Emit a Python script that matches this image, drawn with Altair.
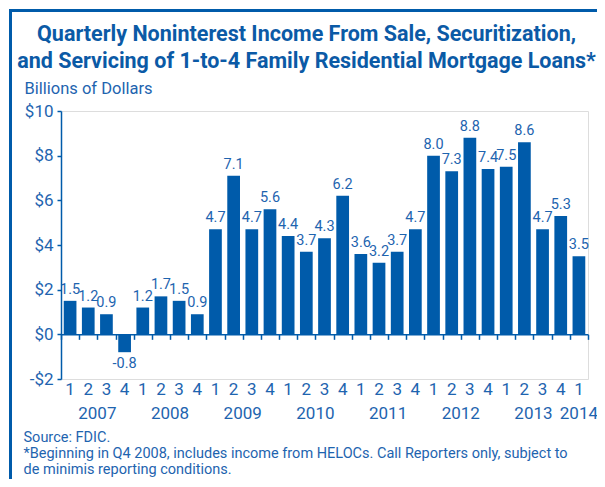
import altair as alt
import pandas as pd

# ---- data ----
year_labels = ["2007", "2008", "2009", "2010", "2011", "2012", "2013", "2014"]
quarters_per_year = [4, 4, 4, 4, 4, 4, 4, 1]
values = [1.5, 1.2, 0.9, -0.8,
          1.2, 1.7, 1.5, 0.9,
          4.7, 7.1, 4.7, 5.6,
          4.4, 3.7, 4.3, 6.2,
          3.6, 3.2, 3.7, 4.7,
          8.0, 7.3, 8.8, 7.4,
          7.5, 8.6, 4.7, 5.3,
          3.5]
y_ticks = [-2, 0, 2, 4, 6, 8, 10]
title_lines = ["Quarterly Noninterest Income From Sale, Securitization,",
               "and Servicing of 1-to-4 Family Residential Mortgage Loans*"]
y_title = "Billions of Dollars"
footnote = ["Source: FDIC.",
            "*Beginning in Q4 2008, includes income from HELOCs. Call Reporters only, subject to",
            "de minimis reporting conditions."]

years, quarters = [], []
for y, n in zip(year_labels, quarters_per_year):
    for q in range(1, n + 1):
        years.append(y)
        quarters.append(str(q))

df = pd.DataFrame({
    "year": years,
    "quarter": quarters,
    "value": values,
    "pos": [i + 0.5 for i in range(len(values))],
})
df["label"] = df["value"].map(lambda v: f"{v:.1f}")

# ---- style ----
BLUE = "#005BAA"
TEXT = "#1E64AF"
TITLE = "#0B5AA6"
FONT = "Roboto"

W, H = 527, 268
n = len(values)

xscale = alt.Scale(domain=[0, n], nice=False, zero=False)
yscale = alt.Scale(domain=[-2, 10], nice=False, zero=False)

xaxis = alt.Axis(
    values=list(range(n + 1)), labels=False, grid=False,
    tickSize=5, tickColor=BLUE, tickWidth=1.5, domainColor=BLUE, domainWidth=1.5,
    offset=-H * 2 / 12,
    title=footnote, titleX=-38, titleY=96, titleAlign="left", titleAnchor="start",
    titleBaseline="top", titleLineHeight=16, titleFontSize=14.5, titleFontWeight="normal",
    titleColor=TEXT, titleFont=FONT,
)
yaxis = alt.Axis(
    values=y_ticks, grid=False,
    labelExpr="datum.value < 0 ? '-$' + abs(datum.value) : '$' + datum.value",
    labelFontSize=17, labelColor=TEXT, labelFont=FONT, labelPadding=4,
    tickSize=4, tickColor=BLUE, tickWidth=1.5, domainColor=BLUE, domainWidth=1.5,
    title=y_title, titleAngle=0, titleX=-37, titleY=-18, titleAlign="left",
    titleBaseline="alphabetic", titleFontSize=16.5, titleFontWeight="normal",
    titleColor=TEXT, titleFont=FONT,
)

base = alt.Chart(df)

bars = base.mark_bar(color=BLUE).transform_calculate(
    x0="datum.pos - 0.35", x1="datum.pos + 0.35"
).encode(
    x=alt.X("x0:Q", scale=xscale, axis=xaxis),
    x2="x1:Q",
    y=alt.Y("value:Q", scale=yscale, axis=yaxis),
    y2=alt.datum(0),
)

pos_labels = base.transform_filter("datum.value >= 0").mark_text(
    font=FONT, fontSize=14.5, color=TEXT, baseline="alphabetic", dy=-7
).encode(
    x=alt.X("pos:Q", scale=xscale, axis=xaxis),
    y=alt.Y("value:Q", scale=yscale, axis=yaxis),
    text="label:N",
)

neg_labels = base.transform_filter("datum.value < 0").mark_text(
    font=FONT, fontSize=14.5, color=TEXT, baseline="top", dy=5
).encode(
    x=alt.X("pos:Q", scale=xscale, axis=xaxis),
    y=alt.Y("value:Q", scale=yscale, axis=yaxis),
    text="label:N",
)

q_labels = base.mark_text(
    font=FONT, fontSize=17, color=TEXT, baseline="middle", dy=11
).encode(
    x=alt.X("pos:Q", scale=xscale, axis=xaxis),
    y=alt.datum(-2),
    text="quarter:N",
)

yr_labels = base.mark_text(
    font=FONT, fontSize=17, color=TEXT, baseline="middle", dy=35
).transform_aggregate(
    mid="mean(pos)", groupby=["year"]
).encode(
    x=alt.X("mid:Q", scale=xscale, axis=xaxis),
    y=alt.datum(-2),
    text="year:N",
)

frame = alt.Chart(pd.DataFrame({"a": [0]}))
left_border = frame.mark_rule(color=BLUE, strokeWidth=3).encode(
    x=alt.value(-50.5), y=alt.value(-102), y2=alt.value(372)
)
top_border = frame.mark_rule(color=BLUE, strokeWidth=3).encode(
    x=alt.value(-52), x2=alt.value(545), y=alt.value(-100.5)
)

chart = alt.layer(
    bars, pos_labels, neg_labels, q_labels, yr_labels, left_border, top_border
).properties(
    width=W, height=H,
    autosize=alt.AutoSizeParams(type="none"),
    padding={"left": 53, "top": 103, "right": 9, "bottom": 100},
    title=alt.Title(
        text=title_lines, fontSize=21.5, font=FONT, fontWeight="bold", color=TITLE,
        anchor="middle", dx=-18, lineHeight=27, offset=-65,
    ),
).configure_view(stroke=None).configure(background="white")

chart.save("out.html", embed_options={"renderer": "svg", "actions": False})
